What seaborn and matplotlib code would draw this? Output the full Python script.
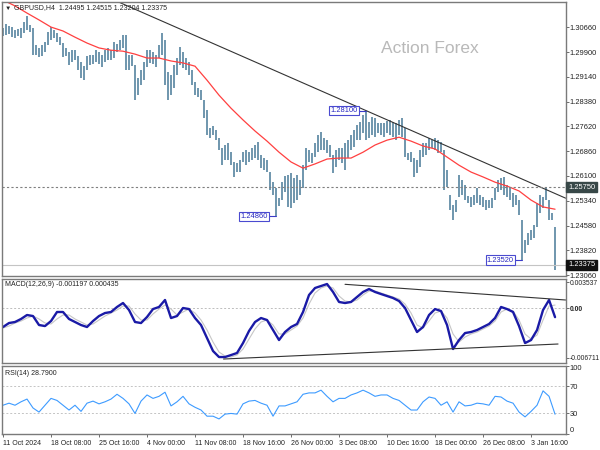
import numpy as np
import pandas as pd
import matplotlib
matplotlib.use("Agg")
import matplotlib.pyplot as plt
import matplotlib.transforms as mtransforms
import seaborn as sns

# GBPUSD H4 price bars (each entry = two H4 candles)
bar_high = [
    1.3064, 1.3076, 1.3070, 1.3067, 1.3058, 1.3061, 1.3064, 1.3082, 1.3101, 1.3073,
    1.3064, 1.3012, 1.3003, 1.3012, 1.3021, 1.3052, 1.3067, 1.3058, 1.3049, 1.3036,
    1.3018, 1.3003, 1.2990, 1.2996, 1.2996, 1.2978, 1.2960, 1.2947, 1.2978, 1.2981,
    1.2981, 1.2996, 1.2990, 1.2981, 1.2996, 1.3003, 1.2996, 1.3021, 1.3015, 1.3027,
    1.3043, 1.3043, 1.2981, 1.2981, 1.2951, 1.2910, 1.2935, 1.2960, 1.2996, 1.2996,
    1.2990, 1.2981, 1.3012, 1.3049, 1.3027, 1.2929, 1.2920, 1.2951, 1.2972, 1.3006,
    1.2990, 1.2972, 1.2960, 1.2935, 1.2898, 1.2880, 1.2874, 1.2843, 1.2812, 1.2757,
    1.2763, 1.2751, 1.2726, 1.2696, 1.2705, 1.2711, 1.2683, 1.2653, 1.2650, 1.2659,
    1.2683, 1.2689, 1.2683, 1.2696, 1.2705, 1.2714, 1.2674, 1.2665, 1.2659, 1.2622,
    1.2591, 1.2573, 1.2542, 1.2591, 1.2610, 1.2613, 1.2619, 1.2604, 1.2613, 1.2597,
    1.2643, 1.2696, 1.2689, 1.2680, 1.2711, 1.2736, 1.2745, 1.2726, 1.2720, 1.2705,
    1.2674, 1.2689, 1.2696, 1.2696, 1.2711, 1.2720, 1.2736, 1.2751, 1.2766, 1.2775,
    1.2797, 1.2810, 1.2775, 1.2791, 1.2788, 1.2772, 1.2772, 1.2772, 1.2779, 1.2782,
    1.2775, 1.2772, 1.2782, 1.2788, 1.2757, 1.2680, 1.2683, 1.2665, 1.2659, 1.2689,
    1.2711, 1.2711, 1.2726, 1.2720, 1.2726, 1.2720, 1.2714, 1.2689, 1.2628, 1.2551,
    1.2521, 1.2536, 1.2613, 1.2597, 1.2582, 1.2548, 1.2545, 1.2551, 1.2573, 1.2551,
    1.2545, 1.2536, 1.2536, 1.2542, 1.2573, 1.2597, 1.2604, 1.2607, 1.2582, 1.2576,
    1.2558, 1.2551, 1.2536, 1.2475, 1.2413, 1.2435, 1.2444, 1.2459, 1.2527, 1.2551,
    1.2545, 1.2576, 1.2536, 1.2496, 1.2452,
]
bar_low = [
    1.3039, 1.3043, 1.3046, 1.3036, 1.3033, 1.3039, 1.3033, 1.3049, 1.3058, 1.3052,
    1.2981, 1.2981, 1.2975, 1.2978, 1.2990, 1.3012, 1.3027, 1.3033, 1.3021, 1.3012,
    1.2975, 1.2978, 1.2951, 1.2960, 1.2966, 1.2935, 1.2910, 1.2904, 1.2935, 1.2951,
    1.2954, 1.2960, 1.2954, 1.2944, 1.2960, 1.2966, 1.2966, 1.2972, 1.2990, 1.2996,
    1.3003, 1.2935, 1.2935, 1.2947, 1.2843, 1.2858, 1.2889, 1.2904, 1.2944, 1.2957,
    1.2954, 1.2944, 1.2972, 1.2981, 1.2889, 1.2843, 1.2858, 1.2880, 1.2920, 1.2951,
    1.2941, 1.2935, 1.2920, 1.2889, 1.2858, 1.2852, 1.2843, 1.2788, 1.2736, 1.2726,
    1.2736, 1.2720, 1.2689, 1.2643, 1.2659, 1.2659, 1.2643, 1.2607, 1.2622, 1.2622,
    1.2653, 1.2643, 1.2653, 1.2659, 1.2665, 1.2659, 1.2634, 1.2628, 1.2622, 1.2567,
    1.2551, 1.2486, 1.2518, 1.2536, 1.2561, 1.2515, 1.2511, 1.2527, 1.2536, 1.2551,
    1.2573, 1.2628, 1.2653, 1.2650, 1.2668, 1.2683, 1.2689, 1.2689, 1.2680, 1.2668,
    1.2619, 1.2637, 1.2659, 1.2650, 1.2628, 1.2665, 1.2689, 1.2699, 1.2720, 1.2720,
    1.2742, 1.2720, 1.2726, 1.2736, 1.2729, 1.2742, 1.2736, 1.2729, 1.2742, 1.2736,
    1.2729, 1.2720, 1.2736, 1.2729, 1.2668, 1.2659, 1.2653, 1.2607, 1.2619, 1.2637,
    1.2668, 1.2674, 1.2689, 1.2696, 1.2689, 1.2680, 1.2683, 1.2567, 1.2576, 1.2505,
    1.2475, 1.2499, 1.2545, 1.2551, 1.2536, 1.2527, 1.2515, 1.2521, 1.2527, 1.2521,
    1.2515, 1.2505, 1.2511, 1.2511, 1.2536, 1.2561, 1.2567, 1.2551, 1.2545, 1.2536,
    1.2515, 1.2521, 1.2490, 1.2352, 1.2373, 1.2398, 1.2413, 1.2419, 1.2453, 1.2496,
    1.2511, 1.2536, 1.2475, 1.2475, 1.2320,
]

# red moving average, one value every 8 H4 bars
ma_line = [
    1.3150, 1.3132, 1.3110, 1.3089, 1.3067, 1.3055, 1.3036, 1.3018, 1.3003, 1.2996,
    1.2993, 1.2984, 1.2972, 1.2972, 1.2963, 1.2957, 1.2947, 1.2904, 1.2858, 1.2818,
    1.2782, 1.2748, 1.2717, 1.2683, 1.2653, 1.2634, 1.2647, 1.2662, 1.2665, 1.2665,
    1.2683, 1.2705, 1.2720, 1.2729, 1.2717, 1.2702, 1.2693, 1.2668, 1.2643, 1.2622,
    1.2607, 1.2591, 1.2579, 1.2564, 1.2536, 1.2515, 1.2508,
]

# MACD(12,26,9) main and signal, one value every 4 H4 bars
macd_main = [
    -0.00254, -0.00200, -0.00186, -0.00145, -0.00091, -0.00105, -0.00227, -0.00241, -0.00173, -0.00050,
    -0.00050, -0.00145, -0.00186, -0.00227, -0.00254, -0.00173, -0.00105, -0.00064, -0.00050, 0.00018,
    0.00072, -0.00023, -0.00186, -0.00200, -0.00118, -0.00010, 0.00018, 0.00113, -0.00132, -0.00105,
    0.00004, -0.00010, -0.00132, -0.00227, -0.00404, -0.00580, -0.00662, -0.00662, -0.00635, -0.00607,
    -0.00472, -0.00308, -0.00186, -0.00132, -0.00159, -0.00295, -0.00431, -0.00322, -0.00254, -0.00213,
    -0.00050, 0.00181, 0.00276, 0.00303, 0.00330, 0.00222, 0.00086, 0.00072, 0.00086, 0.00154,
    0.00222, 0.00262, 0.00222, 0.00194, 0.00167, 0.00140, 0.00099, 0.00004, -0.00159, -0.00322,
    -0.00254, -0.00091, -0.00010, -0.00037, -0.00227, -0.00553, -0.00431, -0.00336, -0.00322, -0.00295,
    -0.00254, -0.00213, -0.00132, 0.00018, -0.00010, -0.00050, -0.00241, -0.00472, -0.00431, -0.00295,
    -0.00023, 0.00113, -0.00120,
]
macd_signal = [
    -0.00268, -0.00241, -0.00200, -0.00173, -0.00132, -0.00105, -0.00145, -0.00200, -0.00213, -0.00145,
    -0.00091, -0.00091, -0.00145, -0.00186, -0.00227, -0.00213, -0.00159, -0.00105, -0.00064, -0.00023,
    0.00031, 0.00031, -0.00077, -0.00159, -0.00159, -0.00077, -0.00010, 0.00045, -0.00010, -0.00091,
    -0.00050, -0.00010, -0.00064, -0.00159, -0.00295, -0.00458, -0.00594, -0.00648, -0.00662, -0.00635,
    -0.00553, -0.00417, -0.00281, -0.00186, -0.00159, -0.00227, -0.00349, -0.00349, -0.00295, -0.00241,
    -0.00132, 0.00058, 0.00208, 0.00276, 0.00303, 0.00276, 0.00167, 0.00099, 0.00086, 0.00113,
    0.00181, 0.00235, 0.00235, 0.00208, 0.00181, 0.00154, 0.00126, 0.00058, -0.00064, -0.00227,
    -0.00268, -0.00173, -0.00064, -0.00037, -0.00132, -0.00349, -0.00458, -0.00390, -0.00349, -0.00322,
    -0.00281, -0.00241, -0.00173, -0.00050, -0.00010, -0.00037, -0.00159, -0.00349, -0.00417, -0.00363,
    -0.00159, 0.00031, 0.00044,
]

# RSI(14), one value every 4 H4 bars
rsi_values = [
    42, 45, 42, 47, 51, 38, 32, 42, 52, 49,
    42, 35, 42, 33, 45, 48, 44, 47, 51, 58,
    52, 44, 30, 48, 57, 52, 55, 61, 41, 47,
    55, 44, 39, 35, 26, 26, 22, 29, 30, 29,
    44, 48, 49, 45, 42, 26, 41, 41, 44, 47,
    58, 60, 60, 64, 55, 47, 52, 52, 57, 60,
    64, 60, 55, 57, 57, 52, 49, 42, 35, 35,
    47, 54, 52, 42, 47, 32, 47, 41, 42, 45,
    44, 42, 55, 54, 48, 45, 32, 25, 33, 42,
    63, 55, 28.79,
]

# drawn objects: trend lines (H4 bar index, value) and marked levels
price_trend = ([77, 375], [1.3144, 1.2542])
macd_upper = ([228, 375], [0.00326, 0.00113])
macd_lower = ([147, 370], [-0.00689, -0.00485])
level_line = 1.25750
last_price = 1.23375
marked = [(242, 1.28100, "1.28100"), (182, 1.24860, "1.24860"), (346, 1.23520, "1.23520")]

price_ticks = [1.30660, 1.29900, 1.29140, 1.28380, 1.27620, 1.26860,
               1.26100, 1.25340, 1.24580, 1.23820, 1.23060]
date_labels = ["11 Oct 2024", "18 Oct 08:00", "25 Oct 16:00", "4 Nov 00:00",
               "11 Nov 08:00", "18 Nov 16:00", "26 Nov 00:00", "3 Dec 08:00",
               "10 Dec 16:00", "18 Dec 00:00", "26 Dec 08:00", "3 Jan 16:00"]

bar_idx = np.arange(len(bar_high)) * 2
ma_idx = np.arange(len(ma_line)) * 8
ind_idx = np.arange(len(macd_main)) * 4
date_idx = np.arange(len(date_labels)) * 32

sns.set_style("white")
plt.rcParams['font.family'] = ['Liberation Sans', 'DejaVu Sans']

W, H = 600, 450
FS_NUM = 5.4   # right-hand numeric scales
FS_TXT = 5.0   # captions and dates
fig = plt.figure(figsize=(6, 4.5), dpi=100)


def rect(top, bottom, left=2, right=565.7):
    return [left / W, 1 - bottom / H, (right - left) / W, (bottom - top) / H]


ax_p = fig.add_axes(rect(2, 276))
ax_m = fig.add_axes(rect(278.5, 363))
ax_r = fig.add_axes(rect(365.5, 434))

for ax in (ax_p, ax_m, ax_r):
    ax.set_xlim(-0.67, 375.1)
    for s in ax.spines.values():
        s.set_color("#7a7a7a")
        s.set_linewidth(1.0)
    ax.yaxis.tick_right()
    ax.tick_params(axis='y', which='both', right=True, left=False, length=2,
                   width=0.6, color="#555555", labelsize=FS_NUM, pad=1,
                   labelcolor="#222222")
    ax.grid(False)
    ax.set_xlabel("")
    ax.set_ylabel("")

# ---- price panel
ax_p.vlines(bar_idx, bar_low, bar_high, color="#4f7e9b", lw=1.15)
sns.lineplot(x=ma_idx, y=ma_line, ax=ax_p, color="#ff4040", lw=0.9)
ax_p.plot(price_trend[0], price_trend[1], color="#333333", lw=0.8)
ax_p.axhline(level_line, color="#7f7f7f", ls=(0, (2, 2)), lw=0.8)
ax_p.axhline(last_price, color="#c4c4c4", lw=0.8)
ax_p.set_ylim(1.2303, 1.3144)
ax_p.set_xticks([])
ax_p.set_yticks(price_ticks)
ax_p.set_yticklabels([f"{v:.5f}" for v in price_ticks])

for idx, val, txt in marked:
    ax_p.plot([idx - 5, idx], [val, val], color="#3c3cc8", lw=0.8)
    ax_p.text(idx - 5.5, val, txt, ha='right', va='center', fontsize=FS_NUM,
              color="#2626c0",
              bbox=dict(boxstyle="square,pad=0.15", fc="white", ec="#4a4ad0", lw=0.8))

tr = mtransforms.blended_transform_factory(ax_p.transAxes, ax_p.transData)
ax_p.text(1.004, level_line, "1.25750", transform=tr, ha='left', va='center',
          fontsize=FS_NUM, color="white",
          bbox=dict(boxstyle="square,pad=0.2", fc="#384848", ec="#384848"))
ax_p.text(1.004, last_price, "1.23375", transform=tr, ha='left', va='center',
          fontsize=FS_NUM, color="white",
          bbox=dict(boxstyle="square,pad=0.2", fc="#111111", ec="#111111"))

ax_p.text(0.759, 0.83, "Action Forex", transform=ax_p.transAxes, ha='center',
          va='center', fontsize=12.5, color="#b9b9b9")
ax_p.text(0.004, 0.978, "\u25bc", transform=ax_p.transAxes, ha='left', va='center',
          fontsize=4.6, color="#222222")
ax_p.text(0.0205, 0.978, "GBPUSD,H4  1.24495 1.24515 1.23204 1.23375",
          transform=ax_p.transAxes, ha='left', va='center', fontsize=FS_TXT,
          color="#222222")

# ---- MACD panel
ax_m.axhline(0, color="#bdbdbd", ls=(0, (2, 2)), lw=0.7)
sns.lineplot(x=ind_idx, y=macd_signal, ax=ax_m, color="#c6c6c6", lw=0.8)
sns.lineplot(x=ind_idx, y=macd_main, ax=ax_m, color="#1a1aa6", lw=1.7)
ax_m.plot(macd_upper[0], macd_upper[1], color="#333333", lw=0.8)
ax_m.plot(macd_lower[0], macd_lower[1], color="#333333", lw=0.8)
ax_m.set_ylim(-0.00743, 0.00405)
ax_m.set_xticks([])
ax_m.set_yticks([0.003537, 0.0, -0.006711])
ax_m.set_yticklabels(["0.003537", "0.00", "-0.006711"])
ax_m.tick_params(axis='y', labelsize=4.9)
ax_m.get_yticklabels()[1].set_fontweight('bold')
ax_m.text(0.005, 0.925, "MACD(12,26,9) -0.001197 0.000435", transform=ax_m.transAxes,
          ha='left', va='center', fontsize=FS_TXT, color="#222222")

# ---- RSI panel
for lvl in (70, 30):
    ax_r.axhline(lvl, color="#c4c4c4", ls=(0, (2, 2)), lw=0.7)
sns.lineplot(x=ind_idx, y=rsi_values, ax=ax_r, color="#3d9bff", lw=0.8)
ax_r.set_ylim(0, 100)
ax_r.set_yticks([100, 70, 30, 0])
ax_r.set_yticklabels(["100", "70", "30", "0"])
ylabs = ax_r.get_yticklabels()
ylabs[0].set_va('top')
ylabs[3].set_va('bottom')
ax_r.text(0.005, 0.89, "RSI(14) 28.7900", transform=ax_r.transAxes,
          ha='left', va='center', fontsize=FS_TXT, color="#222222")
ax_r.set_xticks(date_idx)
ax_r.set_xticklabels(date_labels)
ax_r.tick_params(axis='x', bottom=True, length=2.5, width=0.6, color="#555555",
                 labelsize=FS_TXT, pad=1.5, labelcolor="#222222")
for lab in ax_r.get_xticklabels():
    lab.set_horizontalalignment('left')

fig.savefig("out.png", dpi=100)
